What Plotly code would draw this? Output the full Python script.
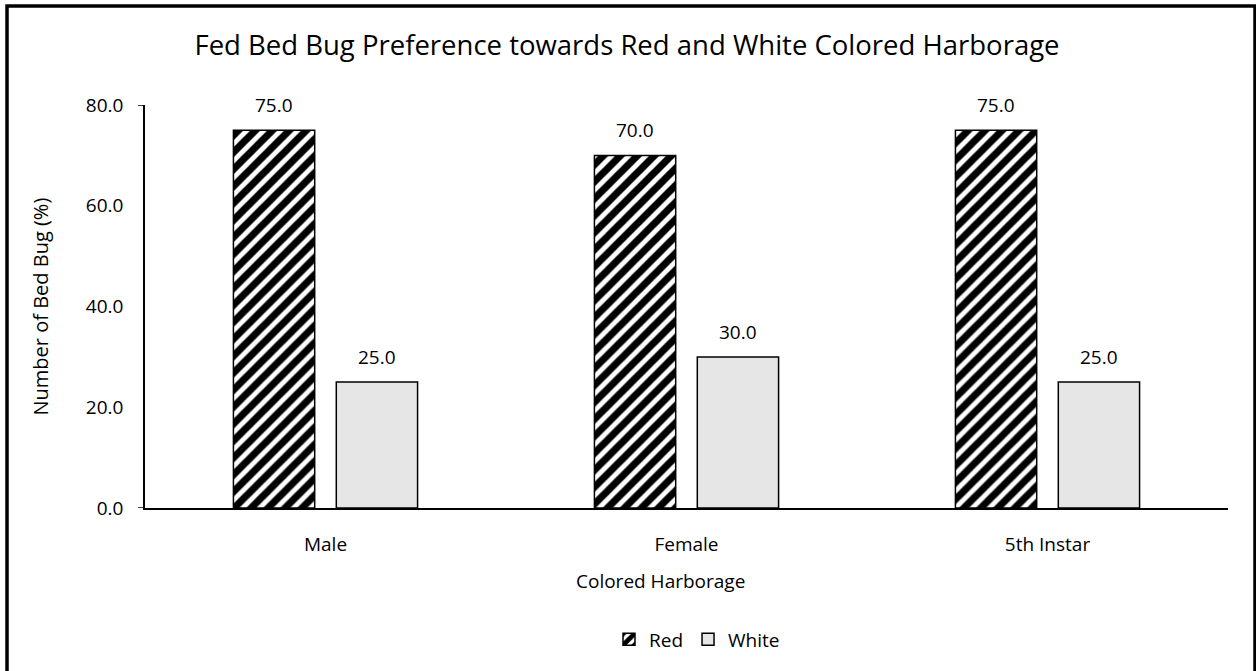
import plotly.graph_objects as go

# Data
categories = ["Male", "Female", "5th Instar"]
red_values = [75.0, 70.0, 75.0]
white_values = [25.0, 30.0, 25.0]
y_ticks = [0, 20, 40, 60, 80]
y_tick_labels = ["0.0", "20.0", "40.0", "60.0", "80.0"]

FONT = "Open Sans"
BLACK = "#000000"

W, H = 1256, 671
L, R, T, B = 145, 28, 105, 161
pw, ph = W - L - R, H - T - B
BARGAP, BARGROUPGAP = 0.43, 0.21

def px(x):
    return (x - L) / pw

def py(y):
    return (H - B - y) / ph

fig = go.Figure()

fig.add_trace(go.Bar(
    name="Red", x=categories, y=red_values,
    marker=dict(color="white",
                line=dict(color=BLACK, width=1.5),
                pattern=dict(shape="/", fgcolor=BLACK, bgcolor="white",
                             size=12, solidity=0.6, fgopacity=1)),
))
fig.add_trace(go.Bar(
    name="White", x=categories, y=white_values,
    marker=dict(color="#E6E6E6", line=dict(color=BLACK, width=1.5)),
))

# value labels above each bar (half a group slot left/right of the category)
slot_px = pw / len(categories) * (1 - BARGAP) / 2
annotations = []
for side, values in ((-1, red_values), (1, white_values)):
    for cat, v in zip(categories, values):
        annotations.append(dict(
            x=cat, y=v, xref="x", yref="y", text=f"{v:.1f}", showarrow=False,
            xshift=side * slot_px / 2, yshift=25, yanchor="middle",
            font=dict(family=FONT, size=19, color=BLACK)))

annotations += [
    dict(text="Colored Harborage", xref="paper", yref="paper",
         x=px(660), y=py(583), xanchor="center", yanchor="middle", showarrow=False,
         font=dict(family=FONT, size=19, color=BLACK)),
    dict(text="Number of Bed Bug (%)", xref="paper", yref="paper",
         x=px(40), y=0.5, xanchor="center", yanchor="middle", showarrow=False,
         textangle=-90, font=dict(family=FONT, size=20, color=BLACK)),
]

shapes = [
    # outer frame
    dict(type="rect", xref="paper", yref="paper",
         x0=px(7), x1=px(1255), y0=py(5.5), y1=py(690),
         line=dict(color=BLACK, width=3.5), fillcolor="rgba(0,0,0,0)", layer="above"),
    # short tick marks at the ends of the value axis
    dict(type="line", xref="paper", yref="y", x0=px(138), x1=0, y0=80, y1=80,
         line=dict(color=BLACK, width=1.5)),
    dict(type="line", xref="paper", yref="y", x0=px(138), x1=0, y0=0, y1=0,
         line=dict(color=BLACK, width=1.5)),
]

fig.update_layout(
    width=W, height=H,
    margin=dict(l=L, r=R, t=T, b=B),
    paper_bgcolor="white", plot_bgcolor="white",
    title=dict(text="Fed Bed Bug Preference towards Red and White Colored Harborage",
               x=627 / W, xref="container", xanchor="center",
               y=(H - 45) / H, yref="container", yanchor="middle",
               font=dict(family=FONT, size=27.5, color=BLACK)),
    barmode="group", bargap=BARGAP, bargroupgap=BARGROUPGAP,
    showlegend=True,
    legend=dict(orientation="h", x=px(697), xanchor="center",
                y=py(642), yanchor="middle", itemwidth=30,
                font=dict(family=FONT, size=19, color=BLACK),
                traceorder="normal"),
    shapes=shapes, annotations=annotations,
    xaxis=dict(showline=True, linecolor=BLACK, linewidth=1.5, ticks="",
               tickfont=dict(family=FONT, size=19, color=BLACK),
               ticklabelstandoff=18, showgrid=False),
    yaxis=dict(range=[0, 80], tickvals=y_ticks, ticktext=y_tick_labels,
               showline=True, linecolor=BLACK, linewidth=1.5, ticks="",
               tickfont=dict(family=FONT, size=19, color=BLACK),
               ticklabelstandoff=16, showgrid=False, zeroline=False),
)

fig.write_html("out.html")
